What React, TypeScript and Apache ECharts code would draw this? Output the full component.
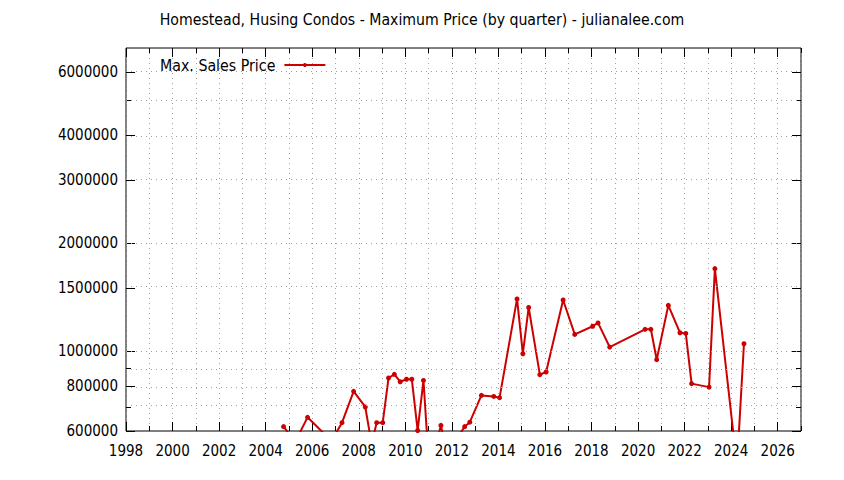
import * as echarts from "echarts";
import { useEffect, useRef } from "react";

// quarter (decimal year) and max sale price
const quarters = [
  2004.77, 2005.27, 2005.8, 2006.83, 2007.28, 2007.78, 2008.28, 2008.55, 2008.77, 2009.03,
  2009.28, 2009.53, 2009.78, 2010.05, 2010.28, 2010.53, 2010.78, 2011.03, 2011.53, 2012.03,
  2012.28, 2012.55, 2012.77, 2013.27, 2013.8, 2014.05, 2014.8, 2015.05, 2015.3, 2015.78,
  2016.05, 2016.78, 2017.28, 2018.05, 2018.28, 2018.78, 2020.3, 2020.55, 2020.8, 2021.3,
  2021.8, 2022.05, 2022.3, 2023.05, 2023.3, 2024.25, 2024.55,
];
const maxPrice = [
  617000, 560000, 655000, 563000, 633000, 774000, 700000, 553000, 633000, 633000,
  843000, 863000, 823000, 836000, 836000, 602000, 830000, 467000, 622000, 440000,
  580000, 617000, 635000, 754000, 749000, 743000, 1400000, 985000, 1325000, 861000,
  876000, 1390000, 1115000, 1175000, 1200000, 1028000, 1152000, 1152000, 948000, 1343000,
  1127000, 1122000, 813000, 795000, 1700000, 480000, 1050000,
];

const xMajorTicks = [1998, 2000, 2002, 2004, 2006, 2008, 2010, 2012, 2014, 2016, 2018, 2020, 2022, 2024, 2026];
const yMajorTicks = [600000, 800000, 1000000, 1500000, 2000000, 3000000, 4000000, 6000000];
const yMinorTicks = [700000, 900000, 5000000];
const yMin = 600000;
const yMax = 7000000;

const FONT = "'DejaVu Sans Condensed', 'DejaVu Sans', sans-serif";
const dotted = { color: "#a0a0a0", type: [1, 4], width: 1 };

const App = () => {
  const chartRef = useRef<HTMLDivElement | null>(null);

  useEffect(() => {
    const chart = echarts.init(chartRef.current!, null, { renderer: "svg" });
    const lg = (v: number) => Math.log10(v);
    const priceLabel = (v: number) => String(Math.round(Math.pow(10, v) / 1000) * 1000);

    const xBase = { type: "value", min: 1998, max: 2027, axisLine: { show: false } };
    const yBase = { type: "value", min: lg(yMin), max: lg(yMax), axisLine: { show: false }, splitLine: { show: false } };
    const tick = (len: number, values?: number[]) => ({
      show: true,
      inside: true,
      length: len,
      lineStyle: { color: "#000", width: 1 },
      ...(values ? { customValues: values } : {}),
    });

    // horizontal grid lines at every major and minor tick
    const gridValues = [...yMajorTicks, ...yMinorTicks].filter((v) => v > yMin);

    const option = {
      animation: false,
      textStyle: { fontFamily: FONT },
      title: {
        text: "Homestead, Husing Condos - Maximum Price (by quarter) - julianalee.com",
        left: "center",
        top: 6,
        textStyle: { fontSize: 15.7, fontWeight: "normal", color: "#000", fontFamily: FONT },
      },
      legend: {
        left: 155,
        top: 52,
        align: "right",
        itemWidth: 41,
        itemHeight: 5,
        textStyle: { fontSize: 15.8, color: "#000", fontFamily: FONT, padding: [0, 4, 0, 0] },
        data: ["Max. Sales Price"],
      },
      grid: {
        left: 126,
        right: 43,
        top: 48,
        bottom: 49,
        show: true,
        borderColor: "#000",
        borderWidth: 1,
      },
      xAxis: [
        {
          ...xBase,
          position: "bottom",
          axisTick: tick(9, xMajorTicks),
          axisLabel: {
            customValues: xMajorTicks,
            formatter: (v: number) => String(v),
            fontSize: 15,
            color: "#000",
            margin: 12,
            fontFamily: FONT,
          },
          splitLine: { show: false },
        },
        {
          ...xBase,
          position: "bottom",
          interval: 1,
          axisTick: tick(5),
          axisLabel: { show: false },
          splitLine: { show: true, lineStyle: dotted },
        },
        {
          ...xBase,
          position: "top",
          axisTick: tick(9, xMajorTicks),
          axisLabel: { show: false },
          splitLine: { show: false },
        },
        {
          ...xBase,
          position: "top",
          interval: 1,
          axisTick: tick(5),
          axisLabel: { show: false },
          splitLine: { show: false },
        },
      ],
      yAxis: [
        {
          ...yBase,
          position: "left",
          axisTick: tick(9, yMajorTicks.map(lg)),
          axisLabel: {
            customValues: yMajorTicks.map(lg),
            formatter: priceLabel,
            fontSize: 15,
            color: "#000",
            margin: 8,
            fontFamily: FONT,
          },
        },
        {
          ...yBase,
          position: "left",
          axisTick: tick(5, yMinorTicks.map(lg)),
          axisLabel: { show: false },
        },
        {
          ...yBase,
          position: "right",
          axisTick: tick(9, yMajorTicks.map(lg)),
          axisLabel: { show: false },
        },
        {
          ...yBase,
          position: "right",
          axisTick: tick(5, yMinorTicks.map(lg)),
          axisLabel: { show: false },
        },
      ],
      series: [
        {
          name: "grid",
          type: "line",
          xAxisIndex: 0,
          yAxisIndex: 0,
          z: 0,
          data: [],
          markLine: {
            silent: true,
            symbol: ["none", "none"],
            label: { show: false },
            lineStyle: dotted,
            data: gridValues.map((v) => ({ yAxis: lg(v) })),
          },
        },
        {
          name: "Max. Sales Price",
          type: "line",
          xAxisIndex: 0,
          yAxisIndex: 0,
          z: 3,
          data: quarters.map((q, i) => [q, lg(maxPrice[i])]),
          symbol: "circle",
          symbolSize: 5,
          clip: true,
          itemStyle: { color: "#cc0000" },
          lineStyle: { color: "#cc0000", width: 2 },
        },
      ],
    };

    chart.setOption(option);

    return () => {
      chart.dispose();
    };
  }, []);

  return <div ref={chartRef} style={{ position: "absolute", left: 0, top: 0, width: 844, height: 480 }} />;
};

export default App;
